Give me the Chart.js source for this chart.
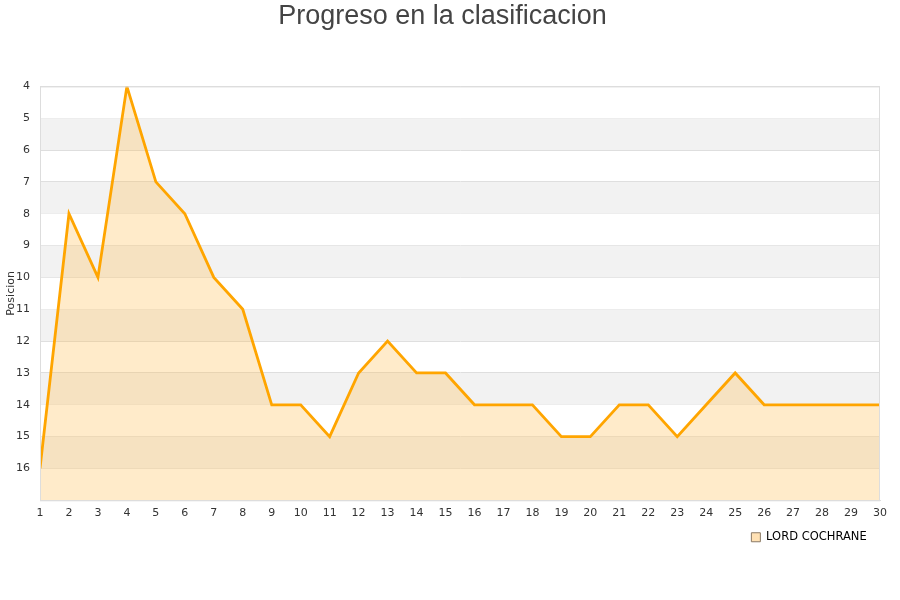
<!DOCTYPE html>
<html>
<head>
<meta charset="utf-8">
<script src="https://cdn.jsdelivr.net/npm/chart.js@4"></script>
<style>
  body { margin: 0; background: #fff; }
</style>
</head>
<body>
<canvas id="myChart" width="900" height="600"></canvas>
<script>
const jornadas = [1,2,3,4,5,6,7,8,9,10,11,12,13,14,15,16,17,18,19,20,21,22,23,24,25,26,27,28,29,30];
const posiciones = [16,8,10,4,7,8,10,11,14,14,15,13,12,13,13,14,14,14,15,15,14,14,15,14,13,14,14,14,14,14];
const equipo = 'LORD COCHRANE';
const yMin = 4;
const yMax = 17;

// franjas grises alternas detras de la linea
const franjas = {
  id: 'franjas',
  beforeDatasetsDraw(chart) {
    const {ctx, chartArea, scales} = chart;
    ctx.save();
    ctx.fillStyle = '#f2f2f2';
    for (let v = yMin + 1; v < yMax; v += 2) {
      const y1 = scales.y.getPixelForValue(v);
      const y2 = scales.y.getPixelForValue(v + 1);
      ctx.fillRect(chartArea.left, y1, chartArea.right - chartArea.left, y2 - y1);
    }
    ctx.restore();
  }
};

const puntos = jornadas.map((j, i) => ({x: j, y: posiciones[i]}));

const ctx = document.getElementById('myChart');
let myChart = new Chart(ctx, {
  type: 'line',
  data: {
    datasets: [{
      label: equipo,
      data: puntos,
      borderColor: '#FFA500',
      backgroundColor: 'rgba(255, 190, 80, 0.3)',
      borderWidth: 2.8,
      pointRadius: 0,
      tension: 0,
      fill: 'start'
    }]
  },
  options: {
    responsive: false,
    animation: false,
    layout: { padding: { left: 5, right: 20, top: 0, bottom: 47 } },
    plugins: {
      title: {
        display: true,
        text: 'Progreso en la clasificacion',
        color: '#444',
        font: { family: 'Liberation Sans', size: 27, weight: 'normal' },
        padding: { top: 0, bottom: 54 }
      },
      legend: {
        position: 'bottom',
        align: 'end',
        labels: {
          color: '#222',
          font: { family: 'DejaVu Sans', size: 11.5 },
          boxWidth: 9,
          boxHeight: 9,
          padding: 6,
          generateLabels(chart) {
            return [{
              text: equipo + '\u00A0\u00A0',
              fillStyle: 'rgba(255, 225, 180, 1)',
              strokeStyle: '#8a7a66',
              lineWidth: 1,
              datasetIndex: 0
            }];
          }
        }
      },
      tooltip: { enabled: false }
    },
    scales: {
      x: {
        type: 'linear',
        min: 1,
        max: 30,
        ticks: { stepSize: 1, autoSkip: false, maxRotation: 0, color: '#333', font: { family: 'DejaVu Sans', size: 11 }, padding: 6 },
        grid: { display: false, drawTicks: false },
        border: { color: '#ddd' }
      },
      y: {
        reverse: true,
        min: yMin,
        max: yMax,
        afterFit(scale) { scale.width = 35; },
        ticks: {
          stepSize: 1,
          color: '#333',
          font: { family: 'DejaVu Sans', size: 11 },
          padding: 10,
          callback: v => (v === yMax ? '' : v)
        },
        grid: { color: '#ddd', drawTicks: false },
        border: { color: '#ddd' },
        title: {
          display: true,
          text: 'Posicion',
          color: '#333',
          font: { family: 'DejaVu Sans', size: 11 },
          padding: 0
        }
      }
    }
  },
  plugins: [franjas, {
    id: 'borde',
    afterDraw(chart) {
      const {ctx, chartArea} = chart;
      ctx.save();
      ctx.strokeStyle = '#ddd';
      ctx.lineWidth = 1;
      ctx.strokeRect(chartArea.left + 0.5, chartArea.top + 0.5, chartArea.right - chartArea.left - 1, chartArea.bottom - chartArea.top);
      ctx.restore();
    }
  }]
});
</script>
</body>
</html>
